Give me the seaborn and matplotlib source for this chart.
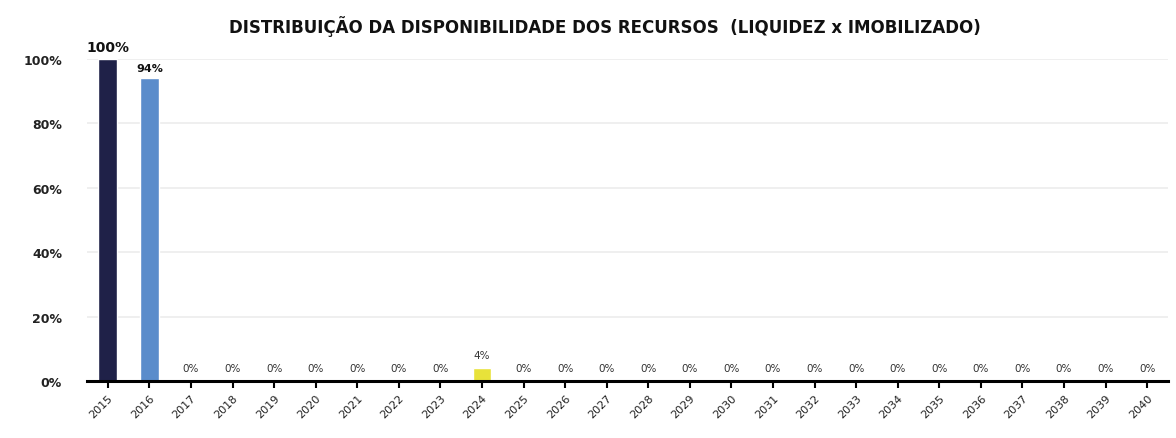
import matplotlib
matplotlib.use("Agg")
import matplotlib.pyplot as plt
import seaborn as sns
import pandas as pd
from matplotlib.ticker import PercentFormatter

# Categories (periods) and share of available resources in each one
periods = [str(y) for y in range(2015, 2041)]
shares = [1.00, 0.94, 0.0, 0.0, 0.0, 0.0, 0.0, 0.0, 0.0, 0.04,
          0.0, 0.0, 0.0, 0.0, 0.0, 0.0, 0.0, 0.0, 0.0, 0.0,
          0.0, 0.0, 0.0, 0.0, 0.0, 0.0]
bar_colors = ["#1f2148", "#5a8ccb", "#8db04a", "#c0504d", "#8064a2",
              "#4bacc6", "#f79646", "#2c4d75", "#772c2a", "#e8e23a",
              "#5f7530", "#4d3b62", "#276a7c", "#b65708", "#729aca",
              "#cd7371", "#a5c16f", "#9983b5", "#6fbdd1", "#f9ab6b",
              "#3a5f8f", "#943b38", "#77923a", "#604a7b", "#31859c",
              "#e46c0a"]
yticks = [0, 0.2, 0.4, 0.6, 0.8, 1.0]
title = "DISTRIBUIÇÃO DA DISPONIBILIDADE DOS RECURSOS  (LIQUIDEZ x IMOBILIZADO)"

df = pd.DataFrame({"periodo": periods, "participacao": shares})

sns.set_theme(style="white")
plt.rcParams["font.family"] = ["DejaVu Sans"]

fig = plt.figure(figsize=(11.76, 4.39), dpi=100)
ax = fig.add_axes([87 / 1176, 1 - 382 / 439, (1168 - 87) / 1176, (382 - 60) / 439])

sns.barplot(data=df, x="periodo", y="participacao", hue="periodo",
            palette=bar_colors, legend=False, width=0.45, ax=ax,
            saturation=1)

ax.set_ylim(0, 1.0)
ax.set_xlim(-0.5, 25.5)
ax.set_yticks(yticks)
ax.yaxis.set_major_formatter(PercentFormatter(1.0, decimals=0))
ax.set_xlabel("")
ax.set_ylabel("")

for y in yticks[1:]:
    ax.axhline(y, color="#ececec", lw=1.2, zorder=0)

# Value labels above each bar
for i, v in enumerate(shares):
    if v >= 0.5:
        ax.text(i, v + 0.015, f"{v:.0%}", ha="center", va="bottom",
                fontsize=10 if v >= 1 else 8, fontweight="bold",
                color="#111111", clip_on=False)
    else:
        ax.text(i, v + 0.025, f"{v:.0%}", ha="center", va="bottom",
                fontsize=7.5, color="#333333")

for s in ["top", "right"]:
    ax.spines[s].set_visible(False)
ax.spines["left"].set_visible(False)
ax.spines["bottom"].set_color("black")
ax.spines["bottom"].set_linewidth(2.2)

ax.tick_params(axis="y", direction="inout", length=12, width=1,
               colors="#999999", labelcolor="#222222", labelsize=9, pad=12)
ax.tick_params(axis="x", bottom=True, length=5, width=1.5, colors="black",
               labelsize=8, labelcolor="#222222", pad=3)
for lbl in ax.get_yticklabels():
    lbl.set_fontweight("bold")
plt.setp(ax.get_xticklabels(), rotation=45, ha="right", rotation_mode="anchor")

fig.text(605 / 1176, 1 - 27 / 439, title, ha="center", va="center",
         fontsize=12, fontweight="bold", color="#111111")

fig.savefig("out.png", dpi=100, facecolor="white")
